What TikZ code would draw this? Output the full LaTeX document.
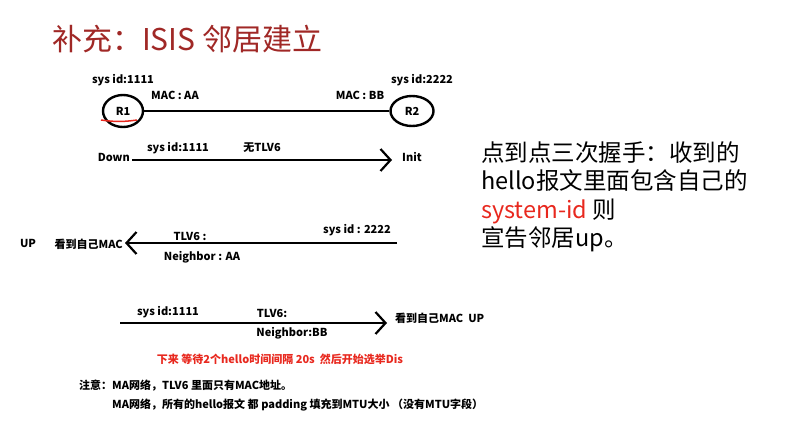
\documentclass[tikz,border=0pt]{standalone}
\usepackage{fontspec}
\setmainfont{Noto Sans CJK SC}
\usetikzlibrary{arrows.meta, shapes.geometric}
\definecolor{TitleRed}{RGB}{160, 40, 38}
\definecolor{NoteRed}{RGB}{232, 40, 30}

\begin{document}
\begin{tikzpicture}[
  x=1pt, y=-1pt,
  every node/.style={font=\bfseries\fontsize{11}{13}\selectfont, inner sep=0pt},
  router/.style={draw, ellipse, line width=2.4pt, minimum width=40pt,
                 minimum height=32pt},
  link/.style={line width=2.2pt},
  msg/.style={line width=2.2pt, -{Straight Barb[length=10pt, width=22pt]}},
  sidetext/.style={font=\fontsize{23.5}{28.5}\selectfont, align=left,
                   anchor=north west}
]
  \useasboundingbox (0,0) rectangle (797,423);

  %% Title
  \node[font=\fontsize{30}{34}\selectfont, text=TitleRed, anchor=west] (title)
    at (52,39) {补充：ISIS 邻居建立};

  %% Topology
  \node[router] (r1) at (123,111) {R1};
  \node[router, minimum width=43pt, minimum height=30pt] (r2) at (412,111) {R2};
  \node (sid1) at (123,80) {sys id:1111};
  \node (sid2) at (422,80) {sys id:2222};
  \node (maca) at (175,95) {MAC : AA};
  \node (macb) at (360,95) {MAC : BB};
  \draw[link] (r1) -- (r2);
  \draw[NoteRed, line width=1.5pt] (101,120) to[bend right=8] (137,120);

  %% Hello 1  (R1 -> R2)
  \node[anchor=east] (down) at (130,157) {Down};
  \node[anchor=west] (init) at (402,157) {Init};
  \node (h1sid) at (178,148) {sys id:1111};
  \node (h1tlv) at (262,148) {无TLV6};
  \coordinate (h1s) at (132,160);
  \coordinate (h1e) at (392,160);
  \draw[msg] (h1s) -- (h1e);

  %% Hello 2  (R2 -> R1)
  \node (up) at (28,243) {UP};
  \node[anchor=east] (seemac1) at (123,244) {看到自己MAC};
  \node (h2tlv) at (190,236) {TLV6 :};
  \node (h2nb) at (202,257) {Neighbor : AA};
  \node (h2sid) at (357,230) {sys id : 2222};
  \coordinate (h2s) at (397,243);
  \coordinate (h2e) at (125,243);
  \draw[msg] (h2s) -- (h2e);

  %% Hello 3  (R1 -> R2)
  \node (h3sid) at (168,312) {sys id:1111};
  \node (h3tlv) at (272,313) {TLV6:};
  \node (h3nb) at (292,333) {Neighbor:BB};
  \node[anchor=west] (seemac2) at (395,318) {看到自己MAC\ \ UP};
  \coordinate (h3s) at (120,323);
  \coordinate (h3e) at (387,323);
  \draw[msg] (h3s) -- (h3e);

  %% Notes
  \node[text=NoteRed] (dis) at (280,359) {下来 等待2个hello时间间隔 20s\ \ 然后开始选举Dis};
  \node[anchor=west] (note1) at (79,386) {注意：MA网络，TLV6 里面只有MAC地址。};
  \node[anchor=west] (note2) at (112,405)
    {MA网络，所有的hello报文 都 padding 填充到MTU大小 （没有MTU字段）};

  %% Side remark
  \node[sidetext] (remark) at (481,141)
    {点到点三次握手：收到的\\hello报文里面包含自己的\\{\color{NoteRed}system-id} 则\\宣告邻居up。};
\end{tikzpicture}
\end{document}
